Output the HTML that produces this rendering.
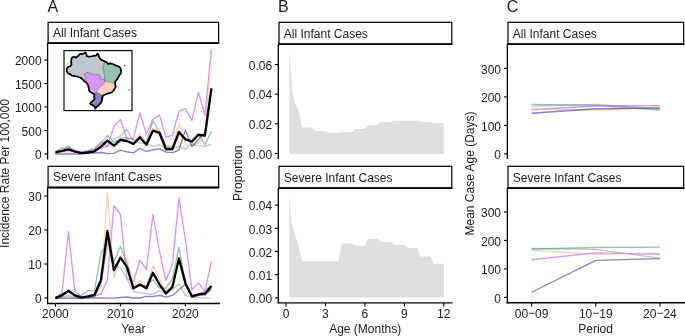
<!DOCTYPE html>
<html><head><meta charset="utf-8"><style>
html,body{margin:0;padding:0;background:#fff;}
svg{display:block;font-family:"Liberation Sans", sans-serif;will-change:transform;}
text{fill:#1a1a1a;}
</style></head><body>
<svg width="685" height="336" viewBox="0 0 685 336">
<rect width="685" height="336" fill="#fff"/>
<text x="47.4" y="11.6" text-anchor="start" font-size="16" >A</text>
<rect x="48.1" y="22.3" width="170.5" height="20.8" fill="#fff" stroke="#000" stroke-width="1.2"/>
<line x1="47.5" y1="43.1" x2="219.2" y2="43.1" stroke="#000" stroke-width="1.8"/>
<text x="53.0" y="36.6" text-anchor="start" font-size="12" >All Infant Cases</text>
<rect x="48.1" y="166.3" width="170.5" height="21.19999999999999" fill="#fff" stroke="#000" stroke-width="1.2"/>
<line x1="47.5" y1="187.5" x2="219.2" y2="187.5" stroke="#000" stroke-width="1.8"/>
<text x="53.0" y="181.1" text-anchor="start" font-size="12" >Severe Infant Cases</text>
<line x1="47.6" y1="43.1" x2="47.6" y2="159.4" stroke="#000" stroke-width="1.3"/>
<line x1="44.3" y1="154.0" x2="47.6" y2="154.0" stroke="#000" stroke-width="1.1"/>
<text x="41.6" y="159.2" text-anchor="end" font-size="12" >0</text>
<line x1="44.3" y1="130.5" x2="47.6" y2="130.5" stroke="#000" stroke-width="1.1"/>
<text x="41.6" y="135.7" text-anchor="end" font-size="12" >500</text>
<line x1="44.3" y1="107.0" x2="47.6" y2="107.0" stroke="#000" stroke-width="1.1"/>
<text x="41.6" y="112.2" text-anchor="end" font-size="12" >1000</text>
<line x1="44.3" y1="83.6" x2="47.6" y2="83.6" stroke="#000" stroke-width="1.1"/>
<text x="41.6" y="88.8" text-anchor="end" font-size="12" >1500</text>
<line x1="44.3" y1="60.1" x2="47.6" y2="60.1" stroke="#000" stroke-width="1.1"/>
<text x="41.6" y="65.3" text-anchor="end" font-size="12" >2000</text>
<line x1="47.6" y1="187.5" x2="47.6" y2="304.2" stroke="#000" stroke-width="1.3"/>
<line x1="46.9" y1="303.5" x2="219.9" y2="303.5" stroke="#000" stroke-width="1.4"/>
<line x1="44.3" y1="298.0" x2="47.6" y2="298.0" stroke="#000" stroke-width="1.1"/>
<text x="41.6" y="303.2" text-anchor="end" font-size="12" >0</text>
<line x1="44.3" y1="264.0" x2="47.6" y2="264.0" stroke="#000" stroke-width="1.1"/>
<text x="41.6" y="269.2" text-anchor="end" font-size="12" >10</text>
<line x1="44.3" y1="230.0" x2="47.6" y2="230.0" stroke="#000" stroke-width="1.1"/>
<text x="41.6" y="235.2" text-anchor="end" font-size="12" >20</text>
<line x1="44.3" y1="196.0" x2="47.6" y2="196.0" stroke="#000" stroke-width="1.1"/>
<text x="41.6" y="201.2" text-anchor="end" font-size="12" >30</text>
<line x1="55.43" y1="303.5" x2="55.43" y2="306.6" stroke="#000" stroke-width="1.1"/>
<text x="55.43" y="318.3" text-anchor="middle" font-size="12" >2000</text>
<line x1="120.43" y1="303.5" x2="120.43" y2="306.6" stroke="#000" stroke-width="1.1"/>
<text x="120.43" y="318.3" text-anchor="middle" font-size="12" >2010</text>
<line x1="185.43" y1="303.5" x2="185.43" y2="306.6" stroke="#000" stroke-width="1.1"/>
<text x="185.43" y="318.3" text-anchor="middle" font-size="12" >2020</text>
<text x="133.3" y="332.5" text-anchor="middle" font-size="12" >Year</text>
<text transform="translate(9.2,173.5) rotate(-90)" text-anchor="middle" font-size="12">Incidence Rate Per 100,000</text>
<polyline points="55.43,152.50 61.93,147.70 68.43,150.00 74.93,152.00 81.43,153.00 87.93,152.50 94.43,151.50 100.93,148.50 107.43,146.00 113.93,139.50 120.43,135.90 126.93,129.30 133.43,141.40 139.93,142.90 146.43,143.60 152.93,146.40 159.43,145.00 165.93,147.90 172.43,148.30 178.93,146.60 185.43,149.10 191.93,144.00 198.43,145.70 204.93,146.70 211.43,144.30" fill="none" stroke="#93a0b1" stroke-width="1.35" stroke-linejoin="round" stroke-linecap="butt" stroke-opacity="0.6"/>
<polyline points="55.43,151.20 61.93,149.50 68.43,146.20 74.93,150.50 81.43,152.60 87.93,151.00 94.43,149.50 100.93,143.60 107.43,135.30 113.93,142.40 120.43,138.20 126.93,137.60 133.43,139.30 139.93,140.00 146.43,142.10 152.93,121.10 159.43,131.40 165.93,145.70 172.43,146.60 178.93,133.60 185.43,139.70 191.93,141.40 198.43,133.80 204.93,144.90 211.43,131.00" fill="none" stroke="#509d76" stroke-width="1.35" stroke-linejoin="round" stroke-linecap="butt" stroke-opacity="0.6"/>
<polyline points="55.43,152.50 61.93,151.00 68.43,147.40 74.93,151.00 81.43,152.00 87.93,150.70 94.43,148.70 100.93,141.80 107.43,146.60 113.93,126.30 120.43,119.40 126.93,138.80 133.43,137.90 139.93,112.90 146.43,134.30 152.93,119.30 159.43,115.00 165.93,137.10 172.43,135.30 178.93,111.20 185.43,108.60 191.93,120.30 198.43,92.30 204.93,115.40 211.43,49.30" fill="none" stroke="#b950ee" stroke-width="1.35" stroke-linejoin="round" stroke-linecap="butt" stroke-opacity="0.6"/>
<polyline points="55.43,153.00 61.93,152.00 68.43,151.50 74.93,152.50 81.43,153.30 87.93,152.80 94.43,152.00 100.93,147.80 107.43,141.20 113.93,149.50 120.43,141.20 126.93,141.80 133.43,142.10 139.93,133.60 146.43,144.30 152.93,128.60 159.43,130.00 165.93,150.70 172.43,150.00 178.93,123.30 185.43,144.80 191.93,145.70 198.43,142.20 204.93,135.30 211.43,49.30" fill="none" stroke="#fcb18f" stroke-width="1.35" stroke-linejoin="round" stroke-linecap="butt" stroke-opacity="0.6"/>
<polyline points="55.43,154.00 61.93,154.00 68.43,153.80 74.93,154.00 81.43,154.00 87.93,153.10 94.43,153.00 100.93,152.50 107.43,153.70 113.93,153.30 120.43,150.10 126.93,151.90 133.43,152.90 139.93,148.30 146.43,151.40 152.93,150.00 159.43,148.60 165.93,152.10 172.43,152.60 178.93,150.00 185.43,130.00 191.93,146.80 198.43,139.50 204.93,132.50 211.43,88.50" fill="none" stroke="#34329d" stroke-width="1.35" stroke-linejoin="round" stroke-linecap="butt" stroke-opacity="0.6"/>
<polyline points="55.43,152.40 61.93,151.00 68.43,149.30 74.93,151.50 81.43,153.10 87.93,152.50 94.43,151.30 100.93,146.60 107.43,140.60 113.93,145.60 120.43,139.80 126.93,141.00 133.43,144.00 139.93,137.20 146.43,144.70 152.93,130.60 159.43,132.80 165.93,149.00 172.43,149.00 178.93,132.00 185.43,139.30 191.93,141.60 198.43,134.80 204.93,135.50 211.43,88.30" fill="none" stroke="#000" stroke-width="2.3" stroke-linejoin="round" stroke-linecap="butt" />
<polyline points="55.43,298.00 61.93,297.00 68.43,296.00 74.93,297.50 81.43,298.00 87.93,297.50 94.43,296.50 100.93,285.00 107.43,244.00 113.93,263.50 120.43,268.00 126.93,279.00 133.43,291.70 139.93,292.60 146.43,293.50 152.93,294.40 159.43,290.70 165.93,293.50 172.43,289.80 178.93,284.30 185.43,295.40 191.93,297.20 198.43,297.20 204.93,298.10 211.43,298.10" fill="none" stroke="#93a0b1" stroke-width="1.35" stroke-linejoin="round" stroke-linecap="butt" stroke-opacity="0.6"/>
<polyline points="55.43,297.50 61.93,293.50 68.43,291.70 74.93,296.00 81.43,295.40 87.93,290.70 94.43,290.50 100.93,254.00 107.43,239.60 113.93,261.50 120.43,246.40 126.93,263.30 133.43,287.00 139.93,286.10 146.43,285.20 152.93,279.70 159.43,288.00 165.93,288.00 172.43,278.70 178.93,247.40 185.43,282.40 191.93,295.40 198.43,294.40 204.93,295.40 211.43,288.00" fill="none" stroke="#509d76" stroke-width="1.35" stroke-linejoin="round" stroke-linecap="butt" stroke-opacity="0.6"/>
<polyline points="55.43,298.00 61.93,293.50 68.43,231.75 74.93,291.70 81.43,296.30 87.93,297.50 94.43,296.00 100.93,293.90 107.43,280.30 113.93,205.30 120.43,214.50 126.93,278.70 133.43,281.50 139.93,260.30 146.43,269.50 152.93,214.25 159.43,251.00 165.93,280.60 172.43,264.00 178.93,198.00 185.43,240.00 191.93,289.80 198.43,282.80 204.93,291.70 211.43,261.20" fill="none" stroke="#b950ee" stroke-width="1.35" stroke-linejoin="round" stroke-linecap="butt" stroke-opacity="0.6"/>
<polyline points="55.43,298.00 61.93,296.50 68.43,295.00 74.93,297.00 81.43,297.50 87.93,297.00 94.43,296.00 100.93,287.00 107.43,192.90 113.93,278.00 120.43,255.40 126.93,258.50 133.43,286.10 139.93,280.60 146.43,286.10 152.93,265.80 159.43,278.70 165.93,291.70 172.43,284.30 178.93,260.30 185.43,282.00 191.93,296.30 198.43,294.40 204.93,291.00 211.43,283.40" fill="none" stroke="#fcb18f" stroke-width="1.35" stroke-linejoin="round" stroke-linecap="butt" stroke-opacity="0.6"/>
<polyline points="55.43,298.20 61.93,298.20 68.43,298.20 74.93,298.20 81.43,298.20 87.93,298.00 94.43,298.00 100.93,298.00 107.43,298.20 113.93,298.00 120.43,297.50 126.93,297.00 133.43,298.00 139.93,298.00 146.43,296.30 152.93,296.50 159.43,295.40 165.93,297.20 172.43,295.40 178.93,289.80 185.43,284.30 191.93,297.20 198.43,295.40 204.93,294.40 211.43,289.80" fill="none" stroke="#34329d" stroke-width="1.35" stroke-linejoin="round" stroke-linecap="butt" stroke-opacity="0.6"/>
<polyline points="55.43,298.10 61.93,295.40 68.43,290.70 74.93,295.40 81.43,297.60 87.93,296.30 94.43,295.00 100.93,280.30 107.43,231.00 113.93,270.10 120.43,257.70 126.93,266.80 133.43,288.30 139.93,284.60 146.43,288.30 152.93,272.80 159.43,284.30 165.93,293.50 172.43,287.00 178.93,258.50 185.43,283.40 191.93,296.30 198.43,294.40 204.93,293.50 211.43,286.10" fill="none" stroke="#000" stroke-width="2.3" stroke-linejoin="round" stroke-linecap="butt" />
<rect x="64.0" y="50.6" width="68.0" height="60.0" fill="#fff" stroke="#000" stroke-width="1.15"/>
<polygon points="86.50,82.60 84.25,81.10 82.75,79.60 81.40,78.10 78.70,77.05 75.60,76.20 72.00,75.70 70.25,74.30 68.00,73.40 66.70,71.40 66.70,68.75 68.00,66.80 70.25,66.25 71.60,64.30 71.10,61.60 71.60,58.50 72.50,57.10 74.70,57.00 76.10,57.60 77.40,56.40 78.70,55.80 79.20,54.50 80.50,53.75 82.30,54.00 84.10,53.40 85.40,52.50 86.30,54.00 86.80,56.25 89.00,56.70 91.70,56.25 94.00,55.80 96.20,55.40 97.60,53.60 98.50,54.90 99.40,57.60 100.70,59.40 103.40,60.70 104.90,61.50 103.80,65.20 102.90,67.40 103.80,70.50 104.30,74.10 104.70,77.70 104.90,80.30 100.70,78.80 99.60,75.60 97.60,74.60 94.00,74.60 89.90,73.70 88.10,72.30 84.40,73.80 85.40,77.00 86.00,79.50 86.50,82.60" fill="#bec6d0" stroke="#444" stroke-width="0.35" stroke-linejoin="round"/>
<polygon points="104.90,61.50 106.50,62.10 107.80,63.80 110.50,63.40 113.20,64.30 116.30,65.60 118.60,66.50 120.30,67.90 121.20,70.10 120.80,73.20 119.00,75.90 117.70,78.60 116.50,79.80 115.40,81.40 115.20,83.00 113.90,83.10 112.50,82.70 110.30,82.25 107.60,81.80 105.20,81.00 104.90,80.30 104.70,77.70 104.30,74.10 103.80,70.50 102.90,67.40 103.80,65.20 104.90,61.50" fill="#96c4ad" stroke="#444" stroke-width="0.35" stroke-linejoin="round"/>
<polygon points="86.50,82.60 86.00,79.50 85.40,77.00 84.40,73.80 88.10,72.30 89.90,73.70 94.00,74.60 97.60,74.60 99.60,75.60 100.70,78.80 104.90,80.30 104.90,81.40 104.20,83.10 102.70,84.90 100.50,86.70 98.70,88.50 97.30,90.70 96.00,92.60 94.40,94.40 93.30,93.70 91.10,92.60 89.40,91.20 89.10,90.20 88.70,87.40 88.00,85.20 86.50,82.60" fill="#d596f5" stroke="#444" stroke-width="0.35" stroke-linejoin="round"/>
<polygon points="104.90,80.30 105.20,81.00 107.60,81.80 110.30,82.25 112.50,82.70 113.90,83.10 115.20,83.00 115.20,84.90 115.80,86.30 114.75,88.50 113.40,90.70 111.60,92.50 108.50,93.40 105.80,94.30 103.60,95.20 102.40,96.20 101.20,95.10 99.50,93.80 97.20,93.00 96.00,92.60 97.30,90.70 98.70,88.50 100.50,86.70 102.70,84.90 104.20,83.10 104.90,81.40 104.90,80.30" fill="#fdd0bc" stroke="#444" stroke-width="0.35" stroke-linejoin="round"/>
<polygon points="94.40,94.40 94.00,96.90 94.70,98.70 93.60,100.10 91.90,101.60 90.10,103.40 91.10,104.40 93.30,105.50 94.70,106.90 95.40,108.70 96.50,106.90 98.30,105.50 100.40,103.70 101.90,100.90 102.20,98.00 102.90,96.90 102.40,96.20 101.20,95.10 99.50,93.80 97.20,93.00 96.00,92.60 94.40,94.40" fill="#8584c4" stroke="#444" stroke-width="0.35" stroke-linejoin="round"/>
<polygon points="86.50,82.60 84.25,81.10 82.75,79.60 81.40,78.10 78.70,77.05 75.60,76.20 72.00,75.70 70.25,74.30 68.00,73.40 66.70,71.40 66.70,68.75 68.00,66.80 70.25,66.25 71.60,64.30 71.10,61.60 71.60,58.50 72.50,57.10 74.70,57.00 76.10,57.60 77.40,56.40 78.70,55.80 79.20,54.50 80.50,53.75 82.30,54.00 84.10,53.40 85.40,52.50 86.30,54.00 86.80,56.25 89.00,56.70 91.70,56.25 94.00,55.80 96.20,55.40 97.60,53.60 98.50,54.90 99.40,57.60 100.70,59.40 103.40,60.70 104.90,61.50 106.50,62.10 107.80,63.80 110.50,63.40 113.20,64.30 116.30,65.60 118.60,66.50 120.30,67.90 121.20,70.10 120.80,73.20 119.00,75.90 117.70,78.60 116.50,79.80 115.40,81.40 115.20,83.00 115.20,84.90 115.80,86.30 114.75,88.50 113.40,90.70 111.60,92.50 108.50,93.40 105.80,94.30 103.60,95.20 102.40,96.20 102.90,96.90 102.20,98.00 101.90,100.90 100.40,103.70 98.30,105.50 96.50,106.90 95.40,108.70 94.70,106.90 93.30,105.50 91.10,104.40 90.10,103.40 91.90,101.60 93.60,100.10 94.70,98.70 94.00,96.90 94.40,94.40 93.30,93.70 91.10,92.60 89.40,91.20 89.10,90.20 88.70,87.40 88.00,85.20 86.50,82.60" fill="none" stroke="#000" stroke-width="1.7" stroke-linejoin="round"/>
<circle cx="124.7" cy="65.7" r="0.65" fill="#111"/><circle cx="129.2" cy="89.9" r="0.65" fill="#111"/>
<text x="278.1" y="11.6" text-anchor="start" font-size="16" >B</text>
<rect x="279.0" y="22.3" width="172.8" height="21.900000000000002" fill="#fff" stroke="#000" stroke-width="1.2"/>
<line x1="278.4" y1="44.2" x2="452.40000000000003" y2="44.2" stroke="#000" stroke-width="1.8"/>
<text x="283.8" y="37.5" text-anchor="start" font-size="12" >All Infant Cases</text>
<rect x="279.0" y="166.3" width="172.8" height="21.799999999999983" fill="#fff" stroke="#000" stroke-width="1.2"/>
<line x1="278.4" y1="188.1" x2="452.40000000000003" y2="188.1" stroke="#000" stroke-width="1.8"/>
<text x="283.8" y="181.8" text-anchor="start" font-size="12" >Severe Infant Cases</text>
<polygon points="289.25,153.9 289.25,49.75 290.75,71 292.4,92 295.3,104.5 298.3,110 302.1,127.4 312.1,127.4 315.25,130.9 325.9,130.9 329,132.75 339,132.75 340.9,132 352.1,132 355.5,129 364.4,129 368.4,124.9 377.75,124.9 380.9,122.1 390.9,122.1 394,120.75 417.1,120.75 420.25,122 430.25,122 433.4,123 443.75,123 443.75,153.9" fill="#dfdfdf" stroke="none"/>
<polygon points="289.25,297.6 289.25,193.75 290.4,210 291.3,223 294,231 297.75,243.5 302.25,261 338.4,261 342.1,243.5 351.5,243.5 354.75,245.75 364.75,245.75 368.1,238.9 377.5,238.9 380.75,242 391.1,242 394.25,244.9 404.25,244.9 407.4,248 417.3,248 420.5,256.6 430.5,256.6 433.5,263.75 443.9,263.75 443.9,297.6" fill="#dfdfdf" stroke="none"/>
<line x1="278.3" y1="44.2" x2="278.3" y2="159.0" stroke="#000" stroke-width="1.3"/>
<line x1="275.0" y1="153.5" x2="278.3" y2="153.5" stroke="#000" stroke-width="1.1"/>
<text x="272.1" y="158.7" text-anchor="end" font-size="12" >0.00</text>
<line x1="275.0" y1="123.8" x2="278.3" y2="123.8" stroke="#000" stroke-width="1.1"/>
<text x="272.1" y="129.0" text-anchor="end" font-size="12" >0.02</text>
<line x1="275.0" y1="94.15" x2="278.3" y2="94.15" stroke="#000" stroke-width="1.1"/>
<text x="272.1" y="99.35000000000001" text-anchor="end" font-size="12" >0.04</text>
<line x1="275.0" y1="64.5" x2="278.3" y2="64.5" stroke="#000" stroke-width="1.1"/>
<text x="272.1" y="69.7" text-anchor="end" font-size="12" >0.06</text>
<line x1="278.3" y1="188.1" x2="278.3" y2="303.6" stroke="#000" stroke-width="1.3"/>
<line x1="277.6" y1="302.9" x2="452.4" y2="302.9" stroke="#000" stroke-width="1.4"/>
<line x1="275.0" y1="297.75" x2="278.3" y2="297.75" stroke="#000" stroke-width="1.1"/>
<text x="272.1" y="302.95" text-anchor="end" font-size="12" >0.00</text>
<line x1="275.0" y1="274.6" x2="278.3" y2="274.6" stroke="#000" stroke-width="1.1"/>
<text x="272.1" y="279.8" text-anchor="end" font-size="12" >0.01</text>
<line x1="275.0" y1="251.45" x2="278.3" y2="251.45" stroke="#000" stroke-width="1.1"/>
<text x="272.1" y="256.65" text-anchor="end" font-size="12" >0.02</text>
<line x1="275.0" y1="228.3" x2="278.3" y2="228.3" stroke="#000" stroke-width="1.1"/>
<text x="272.1" y="233.5" text-anchor="end" font-size="12" >0.03</text>
<line x1="275.0" y1="205.1" x2="278.3" y2="205.1" stroke="#000" stroke-width="1.1"/>
<text x="272.1" y="210.29999999999998" text-anchor="end" font-size="12" >0.04</text>
<line x1="286.0" y1="302.9" x2="286.0" y2="306.5" stroke="#000" stroke-width="1.1"/>
<text x="286.0" y="318.0" text-anchor="middle" font-size="12" >0</text>
<line x1="325.45" y1="302.9" x2="325.45" y2="306.5" stroke="#000" stroke-width="1.1"/>
<text x="325.45" y="318.0" text-anchor="middle" font-size="12" >3</text>
<line x1="364.9" y1="302.9" x2="364.9" y2="306.5" stroke="#000" stroke-width="1.1"/>
<text x="364.9" y="318.0" text-anchor="middle" font-size="12" >6</text>
<line x1="404.35" y1="302.9" x2="404.35" y2="306.5" stroke="#000" stroke-width="1.1"/>
<text x="404.35" y="318.0" text-anchor="middle" font-size="12" >9</text>
<line x1="443.8" y1="302.9" x2="443.8" y2="306.5" stroke="#000" stroke-width="1.1"/>
<text x="443.8" y="318.0" text-anchor="middle" font-size="12" >12</text>
<text x="365.2" y="332.5" text-anchor="middle" font-size="12" >Age (Months)</text>
<text transform="translate(242.2,173.2) rotate(-90)" text-anchor="middle" font-size="12">Proportion</text>
<text x="506.8" y="11.6" text-anchor="start" font-size="16" >C</text>
<rect x="508.0" y="22.3" width="175.70000000000005" height="21.900000000000002" fill="#fff" stroke="#000" stroke-width="1.2"/>
<line x1="507.4" y1="44.2" x2="684.3000000000001" y2="44.2" stroke="#000" stroke-width="1.8"/>
<text x="512.8" y="37.5" text-anchor="start" font-size="12" >All Infant Cases</text>
<rect x="508.0" y="166.3" width="175.70000000000005" height="21.799999999999983" fill="#fff" stroke="#000" stroke-width="1.2"/>
<line x1="507.4" y1="188.1" x2="684.3000000000001" y2="188.1" stroke="#000" stroke-width="1.8"/>
<text x="512.8" y="181.8" text-anchor="start" font-size="12" >Severe Infant Cases</text>
<line x1="507.35" y1="44.2" x2="507.35" y2="159.0" stroke="#000" stroke-width="1.3"/>
<line x1="504.0" y1="153.9" x2="507.35" y2="153.9" stroke="#000" stroke-width="1.1"/>
<text x="501.0" y="159.1" text-anchor="end" font-size="12" >0</text>
<line x1="504.0" y1="125.4" x2="507.35" y2="125.4" stroke="#000" stroke-width="1.1"/>
<text x="501.0" y="130.6" text-anchor="end" font-size="12" >100</text>
<line x1="504.0" y1="96.9" x2="507.35" y2="96.9" stroke="#000" stroke-width="1.1"/>
<text x="501.0" y="102.10000000000001" text-anchor="end" font-size="12" >200</text>
<line x1="504.0" y1="68.4" x2="507.35" y2="68.4" stroke="#000" stroke-width="1.1"/>
<text x="501.0" y="73.60000000000001" text-anchor="end" font-size="12" >300</text>
<line x1="507.35" y1="188.1" x2="507.35" y2="303.5" stroke="#000" stroke-width="1.3"/>
<line x1="506.5" y1="302.8" x2="686" y2="302.8" stroke="#000" stroke-width="1.4"/>
<line x1="504.0" y1="297.35" x2="507.35" y2="297.35" stroke="#000" stroke-width="1.1"/>
<text x="501.0" y="302.55" text-anchor="end" font-size="12" >0</text>
<line x1="504.0" y1="268.95" x2="507.35" y2="268.95" stroke="#000" stroke-width="1.1"/>
<text x="501.0" y="274.15" text-anchor="end" font-size="12" >100</text>
<line x1="504.0" y1="240.45" x2="507.35" y2="240.45" stroke="#000" stroke-width="1.1"/>
<text x="501.0" y="245.64999999999998" text-anchor="end" font-size="12" >200</text>
<line x1="504.0" y1="211.95" x2="507.35" y2="211.95" stroke="#000" stroke-width="1.1"/>
<text x="501.0" y="217.14999999999998" text-anchor="end" font-size="12" >300</text>
<line x1="531.6" y1="302.8" x2="531.6" y2="306.6" stroke="#000" stroke-width="1.1"/>
<text x="531.6" y="318.0" text-anchor="middle" font-size="12" >00<tspan dy="-1.1">−</tspan><tspan dy="1.1">09</tspan></text>
<line x1="595.8" y1="302.8" x2="595.8" y2="306.6" stroke="#000" stroke-width="1.1"/>
<text x="595.8" y="318.0" text-anchor="middle" font-size="12" >10<tspan dy="-1.1">−</tspan><tspan dy="1.1">19</tspan></text>
<line x1="659.9" y1="302.8" x2="659.9" y2="306.6" stroke="#000" stroke-width="1.1"/>
<text x="659.9" y="318.0" text-anchor="middle" font-size="12" >20<tspan dy="-1.1">−</tspan><tspan dy="1.1">24</tspan></text>
<text x="595.6" y="332.5" text-anchor="middle" font-size="12" >Period</text>
<text transform="translate(473.6,173.5) rotate(-90)" text-anchor="middle" font-size="12">Mean Case Age (Days)</text>
<polyline points="531.60,106.00 595.80,104.40 659.90,108.75" fill="none" stroke="#93a0b1" stroke-width="1.35" stroke-linejoin="round" stroke-linecap="butt" stroke-opacity="0.6"/>
<polyline points="531.60,104.40 595.80,105.30 659.90,110.00" fill="none" stroke="#509d76" stroke-width="1.35" stroke-linejoin="round" stroke-linecap="butt" stroke-opacity="0.6"/>
<polyline points="531.60,109.75 595.80,106.00 659.90,105.60" fill="none" stroke="#b950ee" stroke-width="1.35" stroke-linejoin="round" stroke-linecap="butt" stroke-opacity="0.6"/>
<polyline points="531.60,109.00 595.80,110.00 659.90,107.25" fill="none" stroke="#fcb18f" stroke-width="1.35" stroke-linejoin="round" stroke-linecap="butt" stroke-opacity="0.6"/>
<polyline points="531.60,113.25 595.80,108.75 659.90,108.10" fill="none" stroke="#34329d" stroke-width="1.35" stroke-linejoin="round" stroke-linecap="butt" stroke-opacity="0.6"/>
<polyline points="531.60,248.50 595.80,249.40 659.90,258.10" fill="none" stroke="#93a0b1" stroke-width="1.35" stroke-linejoin="round" stroke-linecap="butt" stroke-opacity="0.6"/>
<polyline points="531.60,249.00 595.80,247.50 659.90,247.10" fill="none" stroke="#509d76" stroke-width="1.35" stroke-linejoin="round" stroke-linecap="butt" stroke-opacity="0.6"/>
<polyline points="531.60,259.60 595.80,252.90 659.90,254.40" fill="none" stroke="#b950ee" stroke-width="1.35" stroke-linejoin="round" stroke-linecap="butt" stroke-opacity="0.6"/>
<polyline points="531.60,250.25 595.80,254.40 659.90,253.10" fill="none" stroke="#fcb18f" stroke-width="1.35" stroke-linejoin="round" stroke-linecap="butt" stroke-opacity="0.6"/>
<polyline points="531.60,292.25 595.80,260.40 659.90,258.60" fill="none" stroke="#34329d" stroke-width="1.35" stroke-linejoin="round" stroke-linecap="butt" stroke-opacity="0.6"/>
</svg></body></html>
